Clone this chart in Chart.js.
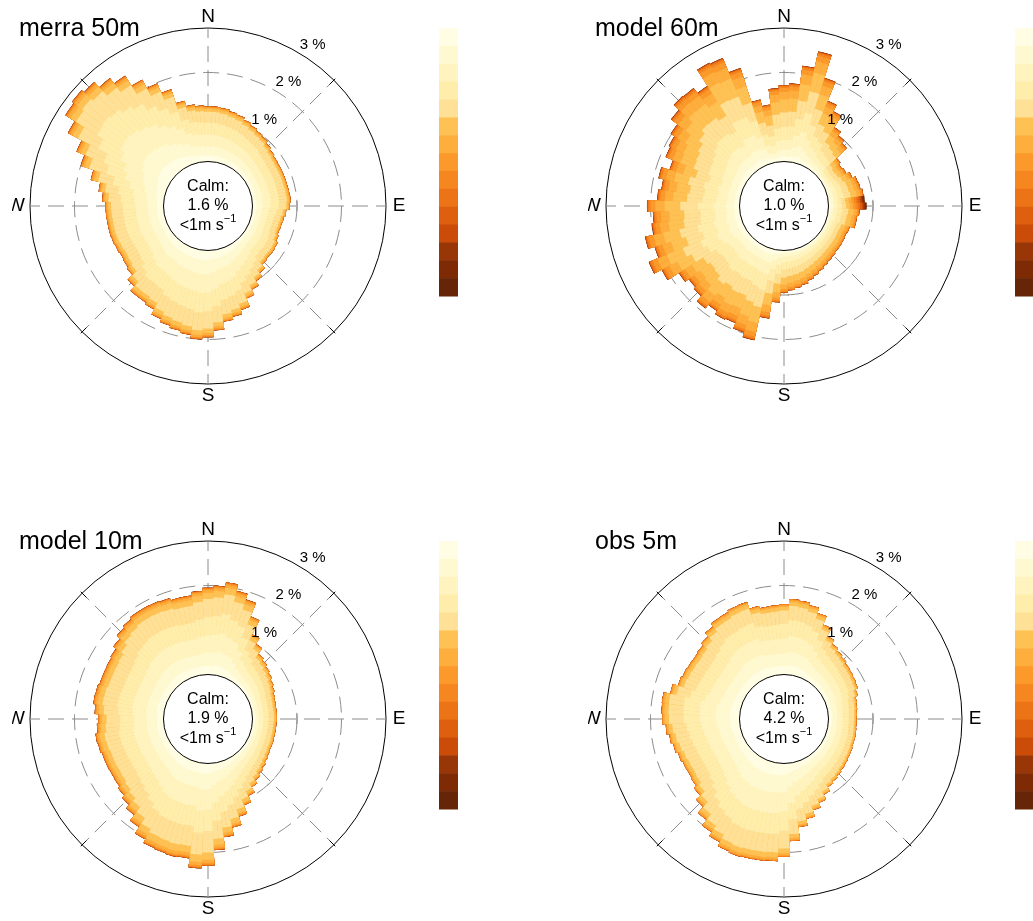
<!DOCTYPE html>
<html lang="en">
<head>
<meta charset="UTF-8">
<title>Wind roses</title>
<script src="https://cdn.jsdelivr.net/npm/chart.js"></script>
<style>
  body { margin: 0; background: #fff; width: 1033px; height: 921px; overflow: hidden; position: relative; }
  canvas { position: absolute; }
</style>
</head>
<body>
<canvas id="merra50" width="576" height="460" style="left:12px;top:0px"></canvas>
<canvas id="model60" width="445" height="460" style="left:588px;top:0px"></canvas>
<canvas id="model10" width="576" height="408" style="left:12px;top:513px"></canvas>
<canvas id="obs5" width="445" height="408" style="left:588px;top:513px"></canvas>

<script>
// direction bins (degrees, bin centre), 5 degree wide
const directions = [0,5,10,15,20,25,30,35,40,45,50,55,
                    60,65,70,75,80,85,90,95,100,105,110,115,
                    120,125,130,135,140,145,150,155,160,165,170,175,
                    180,185,190,195,200,205,210,215,220,225,230,235,
                    240,245,250,255,260,265,270,275,280,285,290,295,
                    300,305,310,315,320,325,330,335,340,345,350,355];

// colours of the 15 wind speed classes, slowest first
const palette = ['#fffde4','#fff9d2','#fff4bf','#feedab','#fee196','#fec254','#fdae3d','#fb9a2b',
                 '#f6861f','#ec7417','#de600f','#cb4c08','#983607','#7d2a05','#662506'];

// frequency (%) of each direction bin, all speeds
const merraTotals = [1.24,1.24,1.22,1.18,1.15,1.10,1.05,1.01,0.98,0.92,0.88,0.85,
                     0.84,0.84,0.84,0.84,0.85,0.86,0.84,0.76,0.72,0.70,0.69,0.72,
                     0.77,0.78,0.77,0.79,0.90,1.00,1.12,1.25,1.45,1.55,1.62,1.80,
                     1.95,2.00,1.92,1.87,1.82,1.75,1.62,1.58,1.58,1.45,1.30,1.26,
                     1.24,1.26,1.28,1.29,1.29,1.30,1.31,1.38,1.48,1.70,2.00,2.20,
                     2.55,2.80,2.85,2.78,2.62,2.47,2.20,1.98,1.75,1.42,1.30,1.26];
const model60Totals = [1.72,1.76,2.18,2.56,2.02,1.56,1.40,1.10,1.00,0.92,0.60,0.55,
                       0.58,0.66,0.74,0.76,0.80,0.82,0.86,0.70,0.66,0.66,0.55,0.53,
                       0.54,0.55,0.55,0.57,0.59,0.62,0.66,0.71,0.76,0.82,0.86,0.90,
                       0.95,1.17,1.55,2.09,1.98,1.85,1.88,1.80,1.90,1.75,1.70,1.80,
                       2.10,2.29,2.05,2.20,2.00,1.95,2.08,1.85,1.78,1.89,1.70,1.88,
                       1.92,2.02,2.20,2.36,2.34,2.20,2.63,2.60,2.25,1.45,1.30,1.65];
const model10Totals = [1.95,2.00,2.10,1.95,1.82,1.50,1.15,1.00,0.85,0.80,0.75,0.71,
                       0.66,0.62,0.58,0.56,0.55,0.55,0.55,0.54,0.54,0.54,0.55,0.55,
                       0.57,0.60,0.64,0.68,0.74,0.82,0.95,1.10,1.30,1.50,1.68,1.95,
                       2.30,2.36,2.16,2.18,2.16,2.14,2.05,1.88,1.72,1.62,1.55,1.50,
                       1.49,1.50,1.50,1.53,1.55,1.50,1.47,1.55,1.60,1.59,1.56,1.56,
                       1.57,1.60,1.68,1.78,1.83,1.88,1.88,1.87,1.85,1.80,1.80,1.88];
const obs5Totals = [1.58,1.70,1.68,1.62,1.50,1.30,1.10,1.00,0.94,0.90,0.86,0.84,
                    0.82,0.80,0.74,0.68,0.66,0.64,0.63,0.63,0.64,0.65,0.65,0.67,
                    0.68,0.70,0.72,0.75,0.78,0.82,0.92,1.04,1.15,1.30,1.45,1.75,
                    2.10,2.20,2.22,2.23,2.25,2.22,2.12,2.02,1.86,1.68,1.55,1.48,
                    1.46,1.47,1.50,1.55,1.60,1.66,1.74,1.76,1.77,1.62,1.50,1.47,
                    1.45,1.44,1.46,1.52,1.62,1.70,1.71,1.75,1.76,1.60,1.55,1.56];

// share of each speed class within a bin
const merraShares = [0.11,0.16,0.21,0.22,0.20,0.05,0.025,0.012,0.006,0.003,0.002,0.001,0.0005,0.0003,0.0002];
const model60Shares = [0.06,0.09,0.13,0.17,0.19,0.17,0.10,0.05,0.02,0.01,0.004,0.003,0.002,0.0005,0.0005];
const model10Shares = [0.10,0.15,0.20,0.21,0.21,0.07,0.03,0.015,0.007,0.004,0.002,0.001,0.0005,0.0003,0.0002];
const obs5Shares = [0.12,0.18,0.21,0.21,0.19,0.05,0.022,0.01,0.004,0.002,0.001,0.0005,0.0003,0.0001,0.0001];
// the strong easterlies at 60m
const model60EastShares = [0.06,0.08,0.10,0.11,0.11,0.10,0.08,0.07,0.06,0.05,0.05,0.04,0.04,0.03,0.02];
const model60EastBins = [85, 90];

const calmValues = [1.6, 1.0, 1.9, 4.2];

const panels = [
  { id: 'merra50', title: 'merra 50m', calm: calmValues[0], totals: merraTotals, shares: merraShares },
  { id: 'model60', title: 'model 60m', calm: calmValues[1], totals: model60Totals, shares: model60Shares,
    special: { bins: model60EastBins, shares: model60EastShares } },
  { id: 'model10', title: 'model 10m', calm: calmValues[2], totals: model10Totals, shares: model10Shares },
  { id: 'obs5', title: 'obs 5m', calm: calmValues[3], totals: obs5Totals, shares: obs5Shares }
];

const FONT = '"Liberation Sans", Arial, Helvetica, sans-serif';
const DASH = [16, 8];
const CX = 196, CY = 206, R = 178;   // rose centre and radius inside each canvas

function cumulative(arr) {
  let run = 0;
  return arr.map(v => (run += v));
}

// each 5 degree bin is split in two half-slices so that slice edges sit at +-2.5 deg
// and the angle lines fall on N, NE, E ...
const halfLabels = directions.flatMap(d => [d + '°', d + '°+']);

function buildDatasets(p) {
  const cum = cumulative(p.shares);
  const cumSpecial = p.special ? cumulative(p.special.shares) : null;
  return palette.map((col, j) => ({
    data: halfLabels.map((_, m) => {
      const k = Math.floor((m + 1) / 2) % directions.length;
      const c = (cumSpecial && p.special.bins.includes(directions[k])) ? cumSpecial : cum;
      return p.totals[k] * c[j];
    }),
    backgroundColor: col,
    borderWidth: 0
  }));
}

const roseDecor = {
  id: 'roseDecor',
  beforeDatasetsDraw(chart) {
    const s = chart.scales.r, ctx = chart.ctx;
    const r1 = s.getDistanceFromCenterForValue(1);
    ctx.save();
    ctx.strokeStyle = '#8c8c8c';
    ctx.lineWidth = 1;
    for (let a = 0; a < 360; a += 45) {
      const t = a * Math.PI / 180;
      const x = s.xCenter + r1 * Math.sin(t), y = s.yCenter - r1 * Math.cos(t);
      ctx.beginPath();
      ctx.moveTo(x - 5 * Math.cos(t), y - 5 * Math.sin(t));
      ctx.lineTo(x + 5 * Math.cos(t), y + 5 * Math.sin(t));
      ctx.stroke();
    }
    ctx.restore();
  },
  afterDatasetsDraw(chart, args, opts) {
    const s = chart.scales.r, ctx = chart.ctx;
    const cx = s.xCenter, cy = s.yCenter;
    const r0 = s.getDistanceFromCenterForValue(0);
    const rMax = s.getDistanceFromCenterForValue(3);
    ctx.save();

    // calm circle
    ctx.beginPath();
    ctx.arc(cx, cy, r0, 0, Math.PI * 2);
    ctx.fillStyle = '#fff';
    ctx.fill();
    ctx.strokeStyle = '#000';
    ctx.lineWidth = 1;
    ctx.stroke();

    ctx.fillStyle = '#000';
    ctx.textAlign = 'center';
    ctx.textBaseline = 'middle';
    ctx.font = '16px ' + FONT;
    ctx.fillText('Calm:', cx, cy - 19);
    ctx.fillText(opts.calm.toFixed(1) + ' %', cx, cy);
    const base = '<1m s', sup = '\u22121';
    const wb = ctx.measureText(base).width;
    ctx.font = '11px ' + FONT;
    const ws = ctx.measureText(sup).width;
    const x0 = cx - (wb + ws) / 2;
    ctx.textAlign = 'left';
    ctx.font = '16px ' + FONT;
    ctx.fillText(base, x0, cy + 20);
    ctx.font = '11px ' + FONT;
    ctx.fillText(sup, x0 + wb, cy + 13);

    // little ticks on the outer circle
    ctx.strokeStyle = '#000';
    for (let a = 45; a < 360; a += 90) {
      const t = a * Math.PI / 180;
      ctx.beginPath();
      ctx.moveTo(cx + (rMax - 6) * Math.sin(t), cy - (rMax - 6) * Math.cos(t));
      ctx.lineTo(cx + (rMax + 2) * Math.sin(t), cy - (rMax + 2) * Math.cos(t));
      ctx.stroke();
    }

    // ring labels
    ctx.textAlign = 'center';
    ctx.font = '15px ' + FONT;
    [1, 2, 3].forEach(v => {
      const r = s.getDistanceFromCenterForValue(v) + 14;
      const t = 33 * Math.PI / 180;
      ctx.fillText(v + ' %', cx + r * Math.sin(t), cy - r * Math.cos(t));
    });

    // compass points
    ctx.font = '19px ' + FONT;
    ctx.fillText('N', cx, cy - 189);
    ctx.fillText('E', cx + 191, cy);
    ctx.fillText('S', cx, cy + 190);
    ctx.fillText('W', cx - 192, cy);

    // panel title
    ctx.textAlign = 'left';
    ctx.textBaseline = 'alphabetic';
    ctx.font = '25px ' + FONT;
    ctx.fillText(opts.title, cx - 189, cy - 170);

    // colour key
    const top = cy - 178, h = 268 / palette.length;
    palette.forEach((c, j) => {
      ctx.fillStyle = c;
      ctx.fillRect(cx + 231, top + j * h, 19, h + 0.5);
    });
    ctx.restore();
  }
};

panels.forEach(p => {
  const canvas = document.getElementById(p.id);
  const W = canvas.width, H = canvas.height;
  new Chart(canvas.getContext('2d'), {
    type: 'polarArea',
    data: { labels: halfLabels, datasets: buildDatasets(p) },
    options: {
      responsive: false,
      animation: false,
      layout: { padding: { left: CX - R, top: CY - R, right: W - CX - R, bottom: H - CY - R } },
      plugins: {
        legend: { display: false },
        tooltip: { enabled: false },
        roseDecor: { title: p.title, calm: p.calm }
      },
      scales: {
        r: {
          min: -1,
          max: 3,
          startAngle: 0,
          ticks: { display: false, stepSize: 1 },
          pointLabels: { display: false },
          grid: {
            circular: true,
            lineWidth: 1,
            color: c => c.tick.value === 3 ? '#000' : (c.tick.value >= 1 ? '#8c8c8c' : 'rgba(0,0,0,0)')
          },
          border: { dash: c => (c.tick && c.tick.value === 3) ? [] : DASH },
          angleLines: {
            display: true,
            lineWidth: 1,
            color: c => c.index % 18 === 0 ? '#8c8c8c' : 'rgba(0,0,0,0)',
            borderDash: DASH
          }
        }
      }
    },
    plugins: [roseDecor]
  });
});
</script>
</body>
</html>
